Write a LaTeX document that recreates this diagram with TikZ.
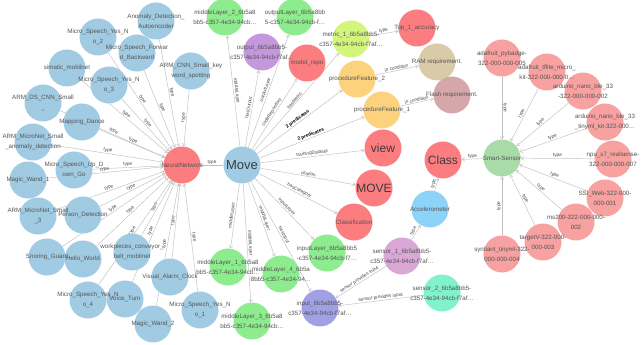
\documentclass[tikz,border=0pt]{standalone}
\usepackage{fontspec}
\setmainfont{Liberation Sans}
\usetikzlibrary{arrows.meta}
\pgfdeclarelayer{bg}
\pgfdeclarelayer{fg}
\pgfsetlayers{bg,main,fg}
\definecolor{cblue}{RGB}{160,203,226}
\definecolor{cred}{RGB}{251,125,128}
\definecolor{cgreen}{RGB}{141,236,141}
\definecolor{cpurple}{RGB}{197,152,222}
\definecolor{cmetric}{RGB}{212,245,125}
\definecolor{corange}{RGB}{253,210,125}
\definecolor{ctan}{RGB}{217,202,168}
\definecolor{cflash}{RGB}{214,167,170}
\definecolor{cinput}{RGB}{160,160,228}
\definecolor{csensa}{RGB}{217,168,214}
\definecolor{csensb}{RGB}{130,242,203}
\definecolor{cacc}{RGB}{141,211,247}
\definecolor{csmart}{RGB}{168,219,168}
\definecolor{cpink}{RGB}{247,161,161}
\definecolor{edgec}{RGB}{192,192,192}
\definecolor{txt}{RGB}{85,85,85}
\definecolor{etxt}{RGB}{70,70,70}
\newcommand\nd[5][]{%
  \node[circ,fill=#4] (#2) at (#3) {};
  \begin{pgfonlayer}{fg}\node[lbl,#1] at (#3) {#5};\end{pgfonlayer}}
\begin{document}
\begin{tikzpicture}[x=1pt,y=-1pt,
  circ/.style={circle,minimum size=37pt,inner sep=0pt,draw=none},
  lbl/.style={align=center,text=txt,font=\fontsize{6.2}{10}\selectfont,inner sep=0pt},
  big/.style={font=\fontsize{12}{14}\selectfont,text={rgb,255:red,60;green,60;blue,60}},
  edge/.style={draw=edgec,line width=0.45pt,-{Straight Barb[length=2.6pt,width=3.6pt]}},
  el/.style={sloped,above,font=\fontsize{4.7}{5}\selectfont,text=etxt,inner sep=0.7pt,pos=0.5},
  bl/.style={sloped,above,font=\bfseries\fontsize{4.8}{5}\selectfont,text=black,inner sep=0.7pt,pos=0.5},
]
\begin{pgfonlayer}{bg}
\fill[white] (0,0) rectangle (641,345);
\end{pgfonlayer}
\useasboundingbox (0,0) rectangle (641,345);
% blue models
\nd{AD}{156,21}{cblue}{Anomaly\_Detection\_\\Autoencoder}
\nd{MS2}{98,37}{cblue}{Micro\_Speech\_Yes\_N\\o\_2}
\nd{MSF}{137,53}{cblue}{Micro\_Speech\_Forwar\\d\_Backward}
\nd{SM}{67,68}{cblue}{simatic\_mobilnet}
\nd{ACK}{191,71}{cblue}{ARM\_CNN\_Small\_key\\word\_spotting}
\nd{MS3}{109,85}{cblue}{Micro\_Speech\_Yes\_N\\o\_3}
\nd{ADS}{43,103}{cblue}{ARM\_DS\_CNN\_Small\\\_}
\nd{MD}{82,122}{cblue}{Mapping\_Dance}
\nd{AMA}{33,142}{cblue}{ARM\_MicroNet\_Small\\\_anomaly\_detection}
\nd{MSU}{74,170}{cblue}{Micro\_Speech\_Up\_D\\own\_Go}
\nd{MW1}{28,180}{cblue}{Magic\_Wand\_1}
\nd{AM3}{38,216}{cblue}{ARM\_MicroNet\_Small\\\_3}
\nd{PD}{83,215}{cblue}{Person\_Detection}
\nd{SG}{47,257}{cblue}{Snoring\_Guard}
\nd{HW}{83,259}{cblue}{Hello\_World}
\nd{WCB}{132,252}{cblue}{workpieces\_conveyor\_\\belt\_mobilnet}
\nd{VAC}{170,277}{cblue}{Visual\_Alarm\_Clock}
\nd{MS4}{88,300}{cblue}{Micro\_Speech\_Yes\_N\\o\_4}
\nd{VT}{125,299}{cblue}{Voice\_Turn}
\nd{MW2}{153,324}{cblue}{Magic\_Wand\_2}
\nd{MS1}{200,310}{cblue}{Micro\_Speech\_Yes\_N\\o\_1}
\nd[big,font=\fontsize{13}{14}\selectfont]{Move}{242,165}{cblue}{Move}
\nd{NN}{182,165}{cred}{NeuralNetwork}
% layers
\nd{ML2}{225,17}{cgreen}{middleLayer\_2\_6b5a8\\bb5-c357-4e34-94cb…}
\nd{OL}{295,17}{cgreen}{outputLayer\_6b5a8bb\\5-c357-4e34-94cb-f…}
\nd{ML1}{228,267}{cgreen}{middleLayer\_1\_6b5a8\\bb5-c357-4e34-94cb…}
\nd{ML4}{281,274}{cgreen}{middleLayer\_4\_6b5a\\8bb5-c357-4e34-94…}
\nd{ML3}{252,321}{cgreen}{middleLayer\_3\_6b5a8\\bb5-c357-4e34-94cb…}
\nd{IL}{327,253}{cgreen}{inputLayer\_6b5a8bb5\\-c357-4e34-94cb-f7…}
\nd{OUT}{262,52}{cpurple}{output\_6b5a8bb5-\\c357-4e34-94cb-f7af…}
\nd{MR}{307,63}{cred}{model\_repo}
\nd{MET}{351,39}{cmetric}{metric\_1\_6b5a8bb5-\\c357-4e34-94cb-f7af…}
\nd{TOP}{417,28}{cred}{Top\_1\_accuracy}
\nd{RAM}{437,62}{ctan}{RAM requirement.}
\nd{FL}{452,95}{cflash}{Flash requirement.}
\nd{PF2}{357,79}{corange}{procedureFeature\_2}
\nd{PF1}{382,110}{corange}{procedureFeature\_1}
\nd[big]{VIEW}{383,148}{cred}{view}
\nd[big]{MOVE}{374,188}{cred}{MOVE}
\nd{CLF}{354,222}{cred}{Classification}
\nd{INP}{320,308}{cinput}{input\_6b5a8bb5-\\c357-4e34-94cb-f7af…}
\nd{S1}{402,256}{csensa}{sensor\_1\_6b5a8bb5-\\c357-4e34-94cb-f7af…}
\nd{S2}{442,293}{csensb}{sensor\_2\_6b5a8bb5-\\c357-4e34-94cb-f7af…}
\nd{ACC}{430,209}{cacc}{Accelerometer}
\nd[big]{CLS}{443,160}{cred}{Class}
\nd{SS}{502,158}{csmart}{Smart-Sensor}
% devices
\nd{P5}{502,58}{cpink}{adafruit\_pybadge-\\322-000-000-005}
\nd{PK}{547,72}{cpink}{adafruit\_tflite\_micro\_\\kit-322-000-000-0…}
\nd{PA}{583,91}{cpink}{arduino\_nano\_ble\_33\\-322-000-000-002}
\nd{PT}{605,122}{cpink}{arduino\_nano\_ble\_33\\\_tinyml\_kit-322-000…}
\nd{P7}{613,159}{cpink}{npu\_s7\_realsense-\\322-000-000-007}
\nd{P1}{605,198}{cpink}{SSI\_Web-322-000-\\000-001}
\nd{P2}{576,222}{cpink}{ms200-322-000-000-\\002}
\nd{P3}{543,242}{cpink}{targetV-322-000-\\000-003}
\nd{P4}{502,254}{cpink}{syntiant\_tinyml-322-\\000-000-004}
\begin{pgfonlayer}{bg}
\foreach \n in {AD,MS2,MSF,SM,ACK,MS3,ADS,MD,AMA,MSU,MW1,AM3,PD,SG,HW,WCB,VAC,MS4,VT,MW2,MS1,Move}
  \draw[edge] (\n) -- node[el]{type} (NN);
\draw[edge] (Move) -- node[el]{middleLayer} (ML2);
\draw[edge] (Move) -- node[el]{hasOutput} (OUT);
\draw[edge] (Move) -- node[el]{outputLayer} (OL);
\draw[edge] (Move) -- node[el]{codeRepository} (MR);
\draw[edge] (Move) -- node[el]{hasMetric} (MET);
\draw[edge] (Move) -- node[bl]{2 predicates} (PF2);
\draw[edge] (Move) -- node[bl]{2 predicates} (PF1);
\draw[edge] (Move) -- node[el]{trainingDataset} (VIEW);
\draw[edge] (Move) -- node[el]{citation} (MOVE);
\draw[edge] (Move) -- node[el]{hasCategory} (CLF);
\draw[edge] (Move) -- node[el]{inputLayer} (IL);
\draw[edge] (Move) -- node[el]{middleLayer} (ML1);
\draw[edge] (Move) -- node[el]{middleLayer} (ML3);
\draw[edge] (Move) -- node[el]{middleLayer} (ML4);
\draw[edge] (Move) -- node[el]{hasInput} (INP);
\draw[edge] (MET) -- node[el]{type} (TOP);
\draw[edge] (PF2) -- node[el]{in condition} (RAM);
\draw[edge] (PF1) -- node[el]{in condition} (FL);
\draw[edge] (S1) -- node[el]{sensor provides input} (INP);
\draw[edge] (S2) -- node[el]{sensor provides input} (INP);
\draw[edge] (S1) -- node[el]{type} (ACC);
\draw[edge] (ACC) -- node[el]{type} (CLS);
\draw[edge] (SS) -- node[el]{type} (CLS);
\foreach \n in {P5,PK,PA,PT,P7,P1,P2,P3,P4}
  \draw[edge] (\n) -- node[el]{type} (SS);
\end{pgfonlayer}
\end{tikzpicture}
\end{document}
